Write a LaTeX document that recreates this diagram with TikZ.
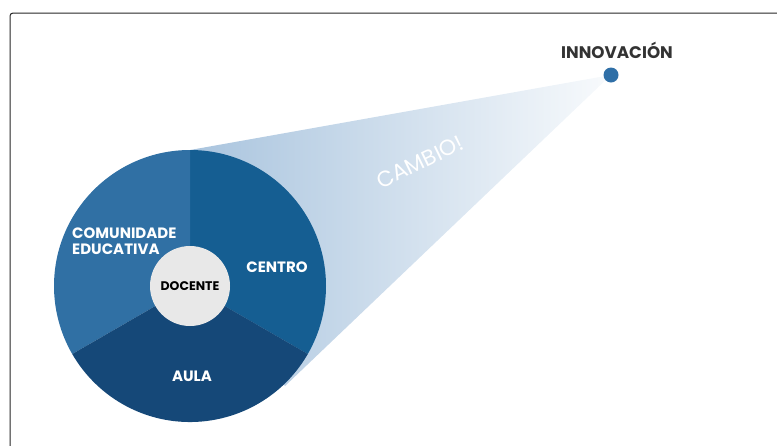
\documentclass[tikz,border=0pt]{standalone}
\usepackage{fontspec}
\setmainfont{Poppins}
\definecolor{cCentro}{HTML}{155E92}
\definecolor{cComun}{HTML}{3070A4}
\definecolor{cAula}{HTML}{154878}
\definecolor{cCore}{HTML}{E8E8E8}
\definecolor{cDot}{HTML}{2F6FA7}
\definecolor{cBeam}{HTML}{A9C4DE}
\definecolor{cText}{HTML}{333333}
\tikzset{
  seclabel/.style={text=white,font=\bfseries\fontsize{15}{16}\selectfont,inner sep=0pt},
  frameline/.style={draw=black!85,line width=1pt,rounded corners=3pt}
}
\begin{document}
\begin{tikzpicture}[x=1pt,y=-1pt]
\useasboundingbox (0,0) rectangle (777,445);
\draw[frameline] (10,450) -- (10,13) -- (782,13);
% beam
\coordinate (C) at (190,286);
\coordinate (D) at (611,75);
\coordinate (T1) at (190,150);
\coordinate (T2) at (285,386);
\coordinate (PR) at (307.8,354);
\shade[left color=cBeam, right color=cBeam!8] (D) -- (T1) -- (C) -- (T2) -- cycle;
% sectors
\fill[cCentro] (C) -- (T1) arc[start angle=-90,end angle=30,radius=136] -- cycle;
\fill[cComun] (C) -- (T1) arc[start angle=-90,end angle=-210,radius=136] -- cycle;
\fill[cAula] (C) -- (PR) arc[start angle=30,end angle=150,radius=136] -- cycle;
\node[circle,fill=cCore,minimum size=80pt,inner sep=0pt] (core) at (C) {};
\node[font=\bfseries\fontsize{12.5}{13}\selectfont,text=black] (doc) at (C) {DOCENTE};
\node[seclabel,anchor=west,align=left] (com) at (72,241) {COMUNIDADE\\EDUCATIVA};
\node[seclabel] (cen) at (277,267) {CENTRO};
\node[seclabel] (aul) at (192,376) {AULA};
% dot and label
\fill[cDot] (D) circle (7.5);
\node[font=\bfseries\fontsize{16.8}{17}\selectfont,text=cText,anchor=base] (inn) at (617,58) {INNOVACIÓN};
\node[rotate=26,text=white,font=\fontsize{22}{23}\selectfont] (cam) at (420,162) {CAMBIO!};
\end{tikzpicture}
\end{document}
